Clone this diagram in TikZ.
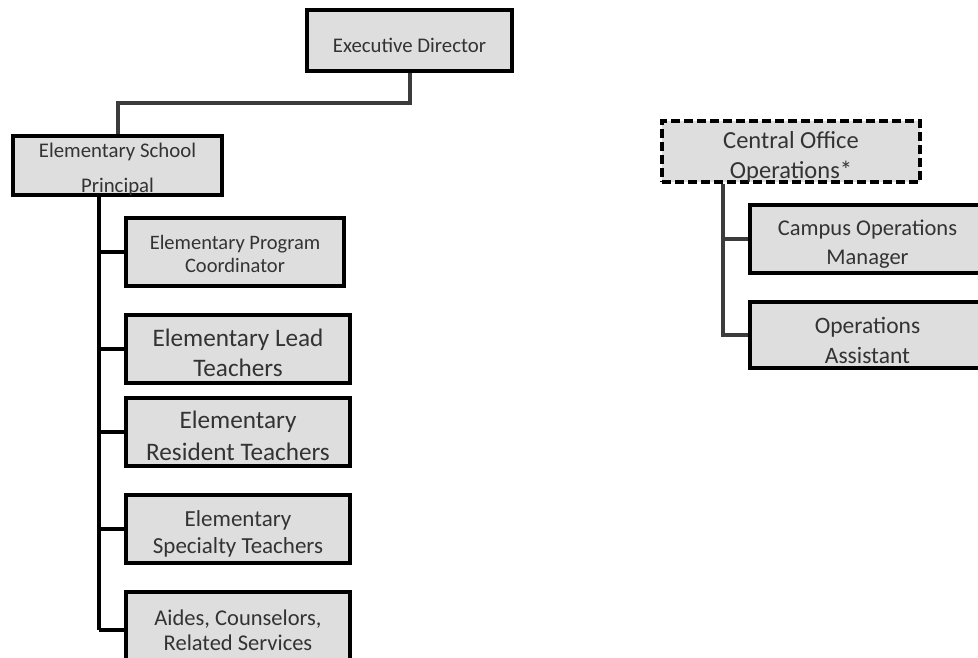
\documentclass[tikz,border=0pt]{standalone}
\usepackage{fontspec}
\setmainfont{Carlito}
\definecolor{boxgray}{HTML}{DEDEDE}
\definecolor{textgray}{HTML}{333333}
\definecolor{linegray}{HTML}{3C3C3C}
\begin{document}
\begin{tikzpicture}[x=1pt,y=-1pt,
  box/.style={draw=black, line width=4.2pt, fill=boxgray, inner sep=0pt},
  dbox/.style={box, dash pattern=on 9pt off 4pt},
  txt/.style={text=textgray, align=center, inner sep=0pt},
  conn/.style={draw=linegray, line width=3.2pt},
  fs/.style n args={2}{font=\fontsize{#1}{#2}\selectfont}]
\useasboundingbox (0,0) rectangle (978,658);
\clip (0,0) rectangle (978,658);
% boxes
\node[box, minimum width=205, minimum height=61,
  label={[txt, fs={20.8}{25}, yshift=-5pt]center:{Executive Director}}] (ed) at (409.5,40.5) {};
\node[box, minimum width=209, minimum height=59,
  label={[txt, fs={20.8}{35}, yshift=-4pt]center:{Elementary School\\Principal}}] (esp) at (117.5,165.5) {};
\node[box, minimum width=218, minimum height=68,
  label={[txt, fs={20.5}{23}, yshift=-2pt]center:{Elementary Program\\Coordinator}}] (epc) at (235,252) {};
\node[box, minimum width=224, minimum height=68,
  label={[txt, fs={25.2}{30}, yshift=-4pt]center:{Elementary Lead\\Teachers}}] (elt) at (238,349) {};
\node[box, minimum width=224, minimum height=68,
  label={[txt, fs={25.2}{32}, yshift=-4pt]center:{Elementary\\Resident Teachers}}] (ert) at (238,432) {};
\node[box, minimum width=224, minimum height=68,
  label={[txt, fs={23}{27}, yshift=-5pt]center:{Elementary\\Specialty Teachers}}] (est) at (238,529) {};
\node[box, minimum width=224, minimum height=76,
  label={[txt, fs={22.5}{25}, yshift=0pt]center:{Aides, Counselors,\\Related Services}}] (aid) at (238,630) {};
\node[dbox, minimum width=258, minimum height=61,
  label={[txt, fs={24.5}{30}, yshift=-5pt]center:{Central Office\\Operations*}}] (coo) at (791,151.5) {};
\node[box, minimum width=235, minimum height=68,
  label={[txt, fs={22.5}{29}, yshift=-5pt]center:{Campus Operations\\Manager}}] (com) at (867.5,239) {};
\node[box, minimum width=235, minimum height=66,
  label={[txt, fs={23.5}{30}, yshift=-5pt]center:{Operations\\Assistant}}] (oa) at (867.5,335) {};
% connectors
\coordinate (edjoin) at (410,103);
\coordinate (espjoin) at (118,103);
\draw[conn] (ed.south -| edjoin) -- (edjoin) -- (espjoin) -- (esp.north -| espjoin);
\coordinate (spine) at (99,195);
\draw[conn, draw=black] (esp.south -| spine) -- (aid.west -| spine)
  (epc.west -| spine) -- (epc.west)
  (elt.west -| spine) -- (elt.west)
  (ert.west -| spine) -- (ert.west)
  (est.west -| spine) -- (est.west)
  (aid.west -| spine) -- (aid.west);
\coordinate (rspine) at (723,182);
\draw[conn] (coo.south -| rspine) -- (oa.west -| rspine) -- (oa.west)
  (com.west -| rspine) -- (com.west);
\end{tikzpicture}
\end{document}
